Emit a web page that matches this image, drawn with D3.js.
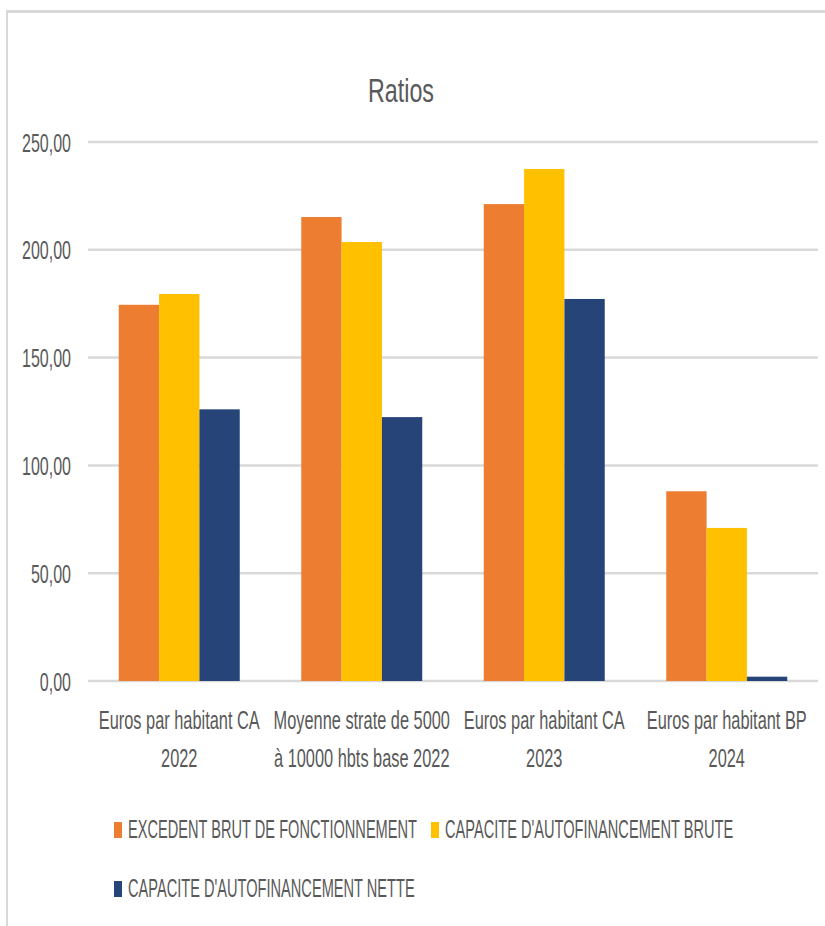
<!DOCTYPE html>
<html>
<head>
<meta charset="utf-8">
<script src="https://cdn.jsdelivr.net/npm/d3@7"></script>
<style>
  html, body { margin: 0; padding: 0; background: #fff; }
  svg { display: block; }
  text { font-family: "Liberation Sans Narrow", "Liberation Sans", Arial, sans-serif; fill: #595959; }
</style>
</head>
<body>
<svg id="chart" width="825" height="926"></svg>
<script>
const title = "Ratios";
const categories = [
  ["Euros par habitant CA", "2022"],
  ["Moyenne strate de 5000", "à 10000 hbts base 2022"],
  ["Euros par habitant CA", "2023"],
  ["Euros par habitant BP", "2024"]
];
const seriesNames = [
  "EXCEDENT BRUT DE FONCTIONNEMENT",
  "CAPACITE D'AUTOFINANCEMENT BRUTE",
  "CAPACITE D'AUTOFINANCEMENT NETTE"
];
const excedentBrut = [174.5, 215.2, 221.2, 88.0];
const cafBrute = [179.5, 203.6, 237.5, 71.0];
const cafNette = [126.0, 122.4, 177.2, 2.0];
const yTicks = [0, 50, 100, 150, 200, 250];
const colors = ["#ED7D31", "#FFC000", "#264478"];

const series = [excedentBrut, cafBrute, cafNette];
const svg = d3.select("#chart");
const W = 825, H = 926;

// chart frame border
svg.append("line").attr("x1", 7).attr("x2", W).attr("y1", 11.5).attr("y2", 11.5)
  .attr("stroke", "#d9d9d9").attr("stroke-width", 3);
svg.append("line").attr("x1", 7).attr("x2", 7).attr("y1", 10).attr("y2", H)
  .attr("stroke", "#d9d9d9").attr("stroke-width", 2);

const plotL = 88, plotR = 818, plotT = 142, plotB = 681;
const catIdx = categories.map((d, i) => i);
const x0 = d3.scaleBand().domain(catIdx).range([plotL, plotR]).paddingInner(0.337).paddingOuter(0.337 / 2);
const x1 = d3.scaleBand().domain([0, 1, 2]).range([0, x0.bandwidth()]).padding(0);
const y = d3.scaleLinear().domain([0, 250]).range([plotB, plotT]);

// horizontal compression factor for a font size so refText gets refWidth
function factor(fontSize, refText, refWidth) {
  const tmp = svg.append("text").attr("font-size", fontSize).text(refText);
  const nat = tmp.node().getComputedTextLength();
  tmp.remove();
  return refWidth / nat;
}
function addText(parent, x, yy, str, size, k, anchor) {
  return parent.append("text")
    .attr("transform", `translate(${x},${yy}) scale(${k},1)`)
    .attr("text-anchor", anchor).attr("font-size", size).text(str);
}

// gridlines
svg.append("g").selectAll("line").data(yTicks).join("line")
  .attr("x1", plotL).attr("x2", plotR)
  .attr("y1", d => y(d)).attr("y2", d => y(d))
  .attr("stroke", "#d9d9d9").attr("stroke-width", 2.5);

// y axis tick labels (positions from the d3 scale)
const fmt = d => d3.format(".2f")(d).replace(".", ",");
const kTick = factor(26, "250,00", 49);
const yG = svg.append("g");
yTicks.forEach(t => addText(yG, 71, y(t) + 9.5, fmt(t), 26, kTick, "end"));

// bars
const groups = svg.append("g").selectAll("g").data(catIdx).join("g")
  .attr("transform", i => `translate(${x0(i)},0)`);
groups.selectAll("rect").data(i => series.map((s, j) => ({ j, v: s[i] }))).join("rect")
  .attr("x", d => x1(d.j)).attr("width", x1.bandwidth())
  .attr("y", d => y(d.v)).attr("height", d => y(0) - y(d.v))
  .attr("fill", d => colors[d.j]);

// category labels
const kCat = factor(25, "Euros par habitant CA", 161);
const catG = svg.append("g");
categories.forEach((lines, i) => {
  const cx = x0(i) + x0.bandwidth() / 2;
  lines.forEach((t, li) => addText(catG, cx, 729 + li * 38, t, 25, kCat, "middle"));
});

// title
const kTitle = factor(33, "Ratios", 66);
addText(svg, 401, 102, title, 33, kTitle, "middle");

// legend
const legendPos = [[114, 838], [431, 838], [114, 897]];
const kLeg = factor(25, seriesNames[0], 289);
const legG = svg.append("g");
seriesNames.forEach((name, j) => {
  const [lx, ly] = legendPos[j];
  legG.append("rect").attr("x", lx).attr("y", ly - 16).attr("width", 8).attr("height", 16)
    .attr("fill", colors[j]);
  addText(legG, lx + 14, ly, name, 25, kLeg, "start");
});
</script>
</body>
</html>
